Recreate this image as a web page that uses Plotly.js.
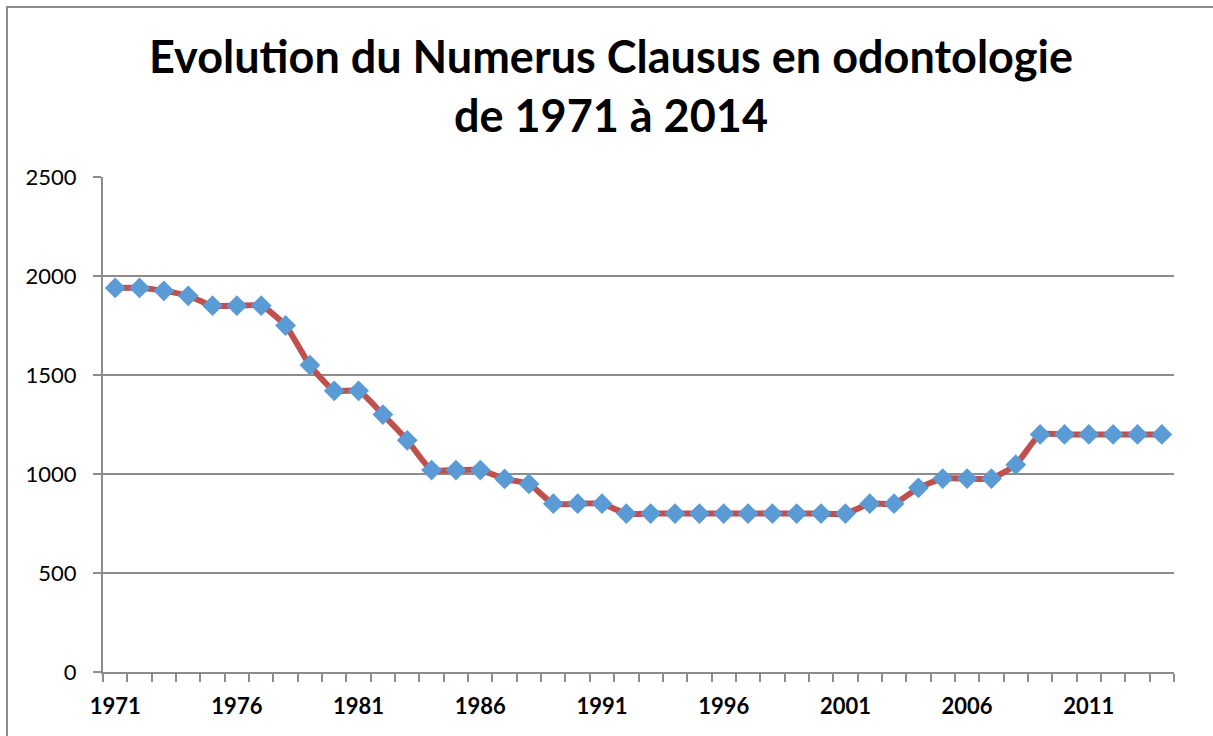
<!DOCTYPE html>
<html>
<head>
<meta charset="utf-8">
<script src="https://cdn.plot.ly/plotly-3.0.1.min.js"></script>
<style>
  html, body { margin: 0; padding: 0; background: #fff; overflow: hidden; }
  #frame { position: absolute; left: 6px; top: 6px; width: 1230px; height: 760px; border: 2px solid #8c8c8c; box-sizing: border-box; pointer-events: none; z-index: 5; }
  #chart { position: absolute; left: 0; top: 0; width: 1213px; height: 736px; }
</style>
</head>
<body>
<div id="chart"></div>
<div id="frame"></div>
<script>
const years = [1971,1972,1973,1974,1975,1976,1977,1978,1979,1980,1981,1982,1983,1984,1985,1986,1987,1988,1989,1990,1991,1992,1993,1994,1995,1996,1997,1998,1999,2000,2001,2002,2003,2004,2005,2006,2007,2008,2009,2010,2011,2012,2013,2014];
const numerusClausus = [1940,1940,1925,1900,1850,1850,1850,1750,1550,1420,1420,1300,1170,1020,1020,1020,975,950,850,850,850,800,800,800,800,800,800,800,800,800,800,850,850,930,977,977,977,1047,1200,1200,1200,1200,1200,1200];
const xTickVals = [1971,1976,1981,1986,1991,1996,2001,2006,2011];
const xTickText = ["1971","1976","1981","1986","1991","1996","2001","2006","2011"];
const yTickVals = [0,500,1000,1500,2000,2500];

const trace = {
  x: years,
  y: numerusClausus,
  type: 'scatter',
  mode: 'lines+markers',
  line: { color: '#C0504D', width: 6, shape: 'spline', smoothing: 0.5 },
  marker: { symbol: 'diamond', size: 16, color: '#5B9BD5', line: { width: 0 } },
  hoverinfo: 'x+y'
};

const layout = {
  width: 1213,
  height: 736,
  margin: { l: 103, r: 39, t: 177, b: 64, pad: 0 },
  paper_bgcolor: '#ffffff',
  plot_bgcolor: '#ffffff',
  showlegend: false,
  title: {
    text: 'Evolution du Numerus Clausus en odontologie<br>de 1971 à 2014',
    font: { family: 'Lato, "Open Sans", sans-serif', size: 45, color: '#000', weight: 'bold' },
    x: 611/1213, xref: 'container', xanchor: 'center',
    y: 1 - 73/736, yref: 'container', yanchor: 'top'
  },
  xaxis: {
    type: 'linear',
    range: [1970.5, 2014.5],
    tickvals: xTickVals,
    ticktext: xTickText,
    ticks: '',
    showgrid: false,
    zeroline: false,
    showline: true,
    linecolor: '#8c8c8c',
    linewidth: 2,
    tickfont: { family: 'Lato, "Open Sans", sans-serif', size: 22, color: '#000', weight: 'bold' },
    ticklabelstandoff: 14,
    minor: { tick0: 1970.5, dtick: 1, ticks: 'outside', ticklen: 8, tickwidth: 2, tickcolor: '#8c8c8c', showgrid: false },
    fixedrange: true
  },
  yaxis: {
    range: [0, 2500],
    tickvals: yTickVals,
    ticks: 'outside',
    ticklen: 8,
    tickwidth: 2,
    tickcolor: '#8c8c8c',
    showgrid: true,
    gridcolor: '#8c8c8c',
    gridwidth: 2,
    zeroline: false,
    showline: true,
    linecolor: '#8c8c8c',
    linewidth: 2,
    tickfont: { family: 'Lato, "Open Sans", sans-serif', size: 22, color: '#000' },
    ticklabelstandoff: 12,
    fixedrange: true
  }
};

Plotly.newPlot('chart', [trace], layout, { displayModeBar: false, staticPlot: true });
</script>
</body>
</html>
